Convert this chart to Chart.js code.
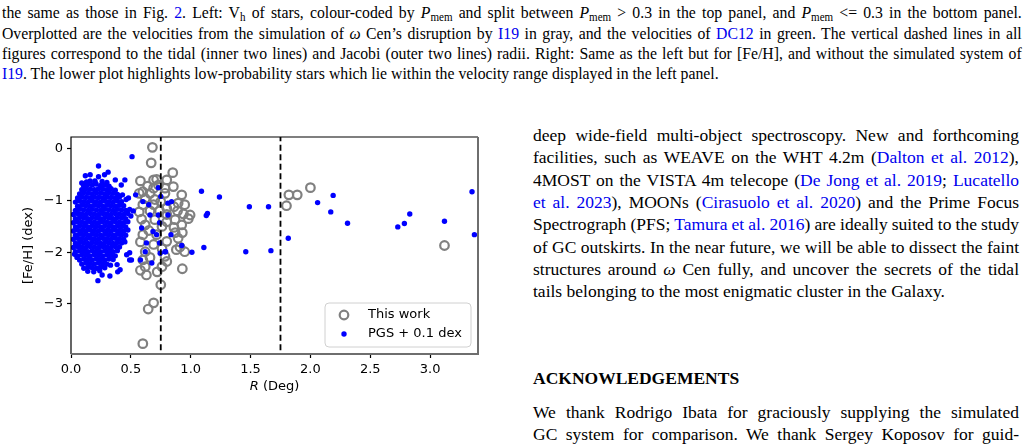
<!DOCTYPE html>
<html><head><meta charset="utf-8">
<script src="https://cdn.jsdelivr.net/npm/chart.js@4.4.1/dist/chart.umd.min.js"></script>
<style>
html,body{margin:0;padding:0;background:#fff;}
body{width:1026px;height:447px;overflow:hidden;position:relative;font-family:"Liberation Serif","Times New Roman",serif;color:#000;}
.cap{position:absolute;left:2px;width:1133px;transform:scaleX(0.9);transform-origin:0 0;font-size:17.5px;line-height:20px;text-align:justify;text-align-last:justify;}
.cap.last{text-align-last:left;}
.col{position:absolute;left:533px;width:486px;font-size:17.5px;line-height:22px;text-align:justify;text-align-last:justify;}
.col.last{text-align-last:left;}
.col.tight{word-spacing:-2.5px;}
.head{position:absolute;left:533px;font-size:17.5px;font-weight:bold;line-height:20px;}
a{color:#0000ee;text-decoration:none;}
sub{font-size:70%;vertical-align:-0.25em;line-height:0;}
#c{position:absolute;left:0;top:100px;}
</style>
</head><body>
<div class="cap" style="top:2px">the same as those in Fig. <a>2</a>. Left: V<sub>h</sub> of stars, colour-coded by <i>P</i><sub>mem</sub> and split between <i>P</i><sub>mem</sub> &gt; 0.3 in the top panel, and <i>P</i><sub>mem</sub> &lt;= 0.3 in the bottom panel.</div>
<div class="cap" style="top:23px">Overplotted are the velocities from the simulation of <i>ω</i> Cen’s disruption by <a>I19</a> in gray, and the velocities of <a>DC12</a> in green. The vertical dashed lines in all</div>
<div class="cap" style="top:43px">figures correspond to the tidal (inner two lines) and Jacobi (outer two lines) radii. Right: Same as the left but for [Fe/H], and without the simulated system of</div>
<div class="cap last" style="top:63px"><a>I19</a>. The lower plot highlights low-probability stars which lie within the velocity range displayed in the left panel.</div>

<div class="col" style="top:124px">deep wide-field multi-object spectroscopy. New and forthcoming</div>
<div class="col" style="top:146.3px">facilities, such as WEAVE on the WHT 4.2m (<a>Dalton et al. 2012</a>),</div>
<div class="col" style="top:168.6px">4MOST on the VISTA 4m telecope (<a>De Jong et al. 2019</a>; <a>Lucatello</a></div>
<div class="col" style="top:190.9px"><a>et al. 2023</a>), MOONs (<a>Cirasuolo et al. 2020</a>) and the Prime Focus</div>
<div class="col tight" style="top:213.2px">Spectrograph (PFS; <a>Tamura et al. 2016</a>) are ideally suited to the study</div>
<div class="col" style="top:235.5px">of GC outskirts. In the near future, we will be able to dissect the faint</div>
<div class="col" style="top:257.8px">structures around <i>ω</i> Cen fully, and uncover the secrets of the tidal</div>
<div class="col last" style="top:280.1px">tails belonging to the most enigmatic cluster in the Galaxy.</div>
<div class="head" style="top:368px">ACKNOWLEDGEMENTS</div>
<div class="col" style="top:401px">We thank Rodrigo Ibata for graciously supplying the simulated</div>
<div class="col" style="top:422.6px">GC system for comparison. We thank Sergey Koposov for guid-</div>

<canvas id="c" width="500" height="310"></canvas>
<script>
// ---- data ----
const xTickValues = [0, 0.5, 1.0, 1.5, 2.0, 2.5, 3.0];
const yTickValues = [0, -1, -2, -3];
const radiusLines = [0.75, 1.75]; // tidal and Jacobi radii (deg)
const legendLabels = ['This work', 'PGS + 0.1 dex'];

// "This work" [R (deg), [Fe/H]]
const thisWorkPoints = [
[0.68,0.03],[0.67,-0.27],
[0.58,-0.62],[0.715,-0.59],[0.85,-0.46],[0.80,-0.60],[0.69,-0.60],
[0.60,-0.83],[0.69,-0.76],[0.785,-0.76],[0.855,-0.73],[0.64,-0.72],[0.57,-0.86],
[0.925,-0.89],[0.66,-0.86],[0.785,-0.86],[0.73,-0.70],
[0.895,-1.05],[0.95,-1.08],[0.80,-1.15],[0.69,-1.08],[0.60,-1.08],[0.86,-1.12],[0.75,-1.02],[0.62,-0.96],[0.70,-0.98],
[0.995,-1.28],[0.94,-1.26],[0.80,-1.27],[0.57,-1.22],[0.66,-1.20],[0.89,-1.20],[0.74,-1.20],
[0.87,-1.37],[0.925,-1.47],[0.62,-1.47],[0.70,-1.37],[0.80,-1.41],[0.98,-1.35],[0.59,-1.36],[0.76,-1.50],[0.86,-1.52],
[0.895,-1.73],[0.80,-1.79],[0.715,-1.66],[0.60,-1.66],[0.65,-1.58],[0.93,-1.62],[0.87,-1.62],
[0.95,-1.99],[0.88,-1.95],[0.62,-1.99],[0.785,-2.08],[0.91,-1.90],[0.69,-1.85],[0.58,-1.80],[0.76,-1.93],
[0.60,-2.15],[0.62,-2.28],[0.63,-2.44],[0.76,-2.28],[0.80,-2.18],[0.93,-2.32],[0.66,-2.10],[0.58,-2.35],[0.72,-2.38],
[0.75,-2.63],[0.69,-2.98],[0.645,-3.10],[0.60,-3.77],
[1.82,-0.89],[1.89,-0.89],[2.00,-0.75],[1.80,-1.10],[3.12,-1.87]
];

// PGS + 0.1 dex, dense core of the cluster
const pgsCorePoints = [
[0.105,-0.71],[0.14,-0.69],[0.178,-0.70],[0.21,-0.68],[0.248,-0.71],[0.283,-0.70],[0.318,-0.72],
[0.09,-0.79],[0.126,-0.77],[0.16,-0.78],[0.196,-0.79],[0.23,-0.77],[0.265,-0.78],[0.30,-0.79],[0.335,-0.77],[0.37,-0.80],
[0.072,-0.87],[0.107,-0.85],[0.142,-0.86],[0.177,-0.87],[0.212,-0.85],[0.247,-0.86],[0.282,-0.87],[0.317,-0.85],[0.352,-0.86],[0.388,-0.88],
[0.055,-0.95],[0.09,-0.93],[0.125,-0.94],[0.16,-0.95],[0.195,-0.93],[0.23,-0.94],[0.265,-0.95],[0.30,-0.93],[0.335,-0.94],[0.37,-0.95],[0.405,-0.93],
[0.037,-1.03],[0.072,-1.01],[0.107,-1.02],[0.142,-1.03],[0.177,-1.01],[0.212,-1.02],[0.247,-1.03],[0.282,-1.01],[0.317,-1.02],[0.352,-1.03],[0.387,-1.01],[0.422,-1.02],
[0.055,-1.11],[0.09,-1.09],[0.125,-1.10],[0.16,-1.11],[0.195,-1.09],[0.23,-1.10],[0.265,-1.11],[0.30,-1.09],[0.335,-1.10],[0.37,-1.11],[0.405,-1.09],[0.44,-1.10],
[0.037,-1.19],[0.072,-1.17],[0.107,-1.18],[0.142,-1.19],[0.177,-1.17],[0.212,-1.18],[0.247,-1.19],[0.282,-1.17],[0.317,-1.18],[0.352,-1.19],[0.387,-1.17],[0.422,-1.18],[0.457,-1.19],[0.49,-1.17],
[0.02,-1.27],[0.055,-1.25],[0.09,-1.26],[0.125,-1.27],[0.16,-1.25],[0.195,-1.26],[0.23,-1.27],[0.265,-1.25],[0.30,-1.26],[0.335,-1.27],[0.37,-1.25],[0.405,-1.26],[0.44,-1.27],[0.475,-1.25],
[0.037,-1.35],[0.072,-1.33],[0.107,-1.34],[0.142,-1.35],[0.177,-1.33],[0.212,-1.34],[0.247,-1.35],[0.282,-1.33],[0.317,-1.34],[0.352,-1.35],[0.387,-1.33],[0.422,-1.34],[0.457,-1.35],
[0.02,-1.43],[0.055,-1.41],[0.09,-1.42],[0.125,-1.43],[0.16,-1.41],[0.195,-1.42],[0.23,-1.43],[0.265,-1.41],[0.30,-1.42],[0.335,-1.43],[0.37,-1.41],[0.405,-1.42],[0.44,-1.43],[0.475,-1.41],
[0.037,-1.51],[0.072,-1.49],[0.107,-1.50],[0.142,-1.51],[0.177,-1.49],[0.212,-1.50],[0.247,-1.51],[0.282,-1.49],[0.317,-1.50],[0.352,-1.51],[0.387,-1.49],[0.422,-1.50],[0.457,-1.51],
[0.02,-1.59],[0.055,-1.57],[0.09,-1.58],[0.125,-1.59],[0.16,-1.57],[0.195,-1.58],[0.23,-1.59],[0.265,-1.57],[0.30,-1.58],[0.335,-1.59],[0.37,-1.57],[0.405,-1.58],[0.44,-1.59],[0.475,-1.57],
[0.037,-1.67],[0.072,-1.65],[0.107,-1.66],[0.142,-1.67],[0.177,-1.65],[0.212,-1.66],[0.247,-1.67],[0.282,-1.65],[0.317,-1.66],[0.352,-1.67],[0.387,-1.65],[0.422,-1.66],[0.457,-1.67],
[0.02,-1.75],[0.055,-1.73],[0.09,-1.74],[0.125,-1.75],[0.16,-1.73],[0.195,-1.74],[0.23,-1.75],[0.265,-1.73],[0.30,-1.74],[0.335,-1.75],[0.37,-1.73],[0.405,-1.74],[0.44,-1.75],
[0.037,-1.83],[0.072,-1.81],[0.107,-1.82],[0.142,-1.83],[0.177,-1.81],[0.212,-1.82],[0.247,-1.83],[0.282,-1.81],[0.317,-1.82],[0.352,-1.83],[0.387,-1.81],[0.422,-1.82],
[0.02,-1.91],[0.055,-1.89],[0.09,-1.90],[0.125,-1.91],[0.16,-1.89],[0.195,-1.90],[0.23,-1.91],[0.265,-1.89],[0.30,-1.90],[0.335,-1.91],[0.37,-1.89],[0.405,-1.90],
[0.037,-1.99],[0.072,-1.97],[0.107,-1.98],[0.142,-1.99],[0.177,-1.97],[0.212,-1.98],[0.247,-1.99],[0.282,-1.97],[0.317,-1.98],[0.352,-1.99],[0.387,-1.97],
[0.055,-2.07],[0.09,-2.05],[0.125,-2.06],[0.16,-2.07],[0.195,-2.05],[0.23,-2.06],[0.265,-2.07],[0.30,-2.05],[0.335,-2.06],[0.37,-2.07],
[0.072,-2.15],[0.107,-2.13],[0.142,-2.14],[0.177,-2.15],[0.212,-2.13],[0.247,-2.14],[0.282,-2.15],[0.317,-2.13],[0.352,-2.14],
[0.09,-2.23],[0.125,-2.21],[0.16,-2.22],[0.195,-2.23],[0.23,-2.21],[0.265,-2.22],[0.30,-2.23],
[0.107,-2.31],[0.142,-2.29],[0.177,-2.30],[0.212,-2.31],[0.247,-2.29],[0.282,-2.30],
[0.05,-2.10],[0.03,-2.04],[0.14,-2.37],[0.19,-2.38],[0.24,-2.36],[0.06,-0.98],[0.33,-2.25],[0.45,-1.80],
[0.50,-1.30],[0.52,-1.20],[0.46,-0.98],[0.20,-0.62],[0.16,-0.62],[0.26,-0.63],[0.30,-0.65],[0.13,-0.64]
];

// PGS + 0.1 dex, scattered stars
const pgsOutlierPoints = [
[0.51,-0.15],[0.23,-0.33],[0.12,-0.52],[0.16,-0.50],[0.23,-0.54],[0.28,-0.50],[0.31,-0.45],[0.09,-0.66],
[0.20,-0.64],[0.37,-0.60],[0.45,-0.60],[0.42,-0.70],[0.43,-0.89],[0.48,-0.95],[0.54,-0.89],[0.60,-1.02],
[0.65,-1.08],[0.73,-0.75],[0.75,-0.92],[0.81,-1.05],[0.84,-1.02],[0.73,-1.28],[0.74,-1.43],[0.66,-1.28],
[0.81,-1.28],[0.59,-1.53],[0.685,-1.60],[0.715,-1.66],[0.835,-1.66],[0.74,-1.82],[0.63,-1.82],[0.785,-1.99],
[0.745,-2.02],[0.62,-1.99],[0.675,-2.21],[0.505,-2.15],[0.41,-2.34],[0.465,-2.05],[0.58,-2.15],[0.49,-2.15],
[0.49,-2.01],[0.225,-2.55],[0.26,-2.44],[0.325,-2.46],[0.39,-2.38],[0.385,-2.24],[0.925,-1.87],[1.01,-2.00],
[1.09,-0.82],[1.24,-0.93],[1.49,-1.12],[1.65,-1.12],[1.14,-1.25],[1.13,-1.29],[1.815,-1.73],[2.06,-1.04],
[2.19,-0.90],[2.17,-1.22],[2.31,-1.44],[2.73,-1.51],[2.785,-1.445],[2.83,-1.26],[3.12,-1.40],[3.35,-0.83],
[3.37,-1.66],[1.11,-1.91],[1.46,-1.99],[1.67,-1.97],[0.79,-1.99]
];

// ---- chart ----
const toXY = p => ({x: p[0], y: p[1]});
const GRAY = '#808080', BLUE = '#0000ff';
const TICK_FONT = {family: 'DejaVu Sans', size: 13};

const decor = {
  id: 'decor',
  afterDraw(chart) {
    const {ctx, chartArea: a} = chart;
    ctx.save();
    // spines
    ctx.lineWidth = 1.2; ctx.strokeStyle = '#000';
    ctx.beginPath(); ctx.moveTo(a.left, a.bottom); ctx.lineTo(a.left, a.top); ctx.lineTo(a.right, a.top); ctx.stroke();
    ctx.lineWidth = 2; ctx.strokeStyle = '#6e6e6e';
    ctx.beginPath(); ctx.moveTo(a.left, a.bottom); ctx.lineTo(a.right, a.bottom); ctx.lineTo(a.right, a.top); ctx.stroke();
    // legend
    const bw = 146, bh = 44, bx = a.right - 7 - bw, by = a.bottom - 7 - bh, r = 4;
    ctx.beginPath();
    ctx.moveTo(bx + r, by); ctx.lineTo(bx + bw - r, by); ctx.arcTo(bx + bw, by, bx + bw, by + r, r);
    ctx.lineTo(bx + bw, by + bh - r); ctx.arcTo(bx + bw, by + bh, bx + bw - r, by + bh, r);
    ctx.lineTo(bx + r, by + bh); ctx.arcTo(bx, by + bh, bx, by + bh - r, r);
    ctx.lineTo(bx, by + r); ctx.arcTo(bx, by, bx + r, by, r); ctx.closePath();
    ctx.fillStyle = 'rgba(255,255,255,0.8)'; ctx.fill();
    ctx.lineWidth = 1; ctx.strokeStyle = '#d0d0d0'; ctx.stroke();
    const mx = bx + 19, y1 = by + 12, y2 = by + 31;
    ctx.beginPath(); ctx.arc(mx, y1, 4.3, 0, Math.PI * 2); ctx.lineWidth = 2.2; ctx.strokeStyle = GRAY; ctx.stroke();
    ctx.beginPath(); ctx.arc(mx, y2, 2.7, 0, Math.PI * 2); ctx.fillStyle = BLUE; ctx.fill();
    ctx.fillStyle = '#000'; ctx.font = '13px "DejaVu Sans"'; ctx.textBaseline = 'middle'; ctx.textAlign = 'left';
    ctx.fillText(legendLabels[0], bx + 43, y1);
    ctx.fillText(legendLabels[1], bx + 43, y2);
    // axis titles
    ctx.save();
    ctx.translate(29, (a.top + a.bottom) / 2);
    ctx.rotate(-Math.PI / 2);
    ctx.textAlign = 'center';
    ctx.fillText('[Fe/H] (dex)', 0, 0);
    ctx.restore();
    ctx.font = 'italic 13px "DejaVu Sans"';
    const wR = ctx.measureText('R').width;
    ctx.font = '13px "DejaVu Sans"';
    const wRest = ctx.measureText(' (Deg)').width;
    const sx = (a.left + a.right) / 2 - (wR + wRest) / 2, ty = a.bottom + 33;
    ctx.textAlign = 'left';
    ctx.font = 'italic 13px "DejaVu Sans"'; ctx.fillText('R', sx, ty);
    ctx.font = '13px "DejaVu Sans"'; ctx.fillText(' (Deg)', sx + wR, ty);
    ctx.restore();
  }
};

new Chart(document.getElementById('c'), {
  type: 'scatter',
  data: {
    datasets: [
      {label: legendLabels[0], data: thisWorkPoints.map(toXY), order: 1,
       pointStyle: 'circle', pointRadius: 4.3, pointBorderWidth: 2.2,
       pointBackgroundColor: 'rgba(0,0,0,0)', pointBorderColor: GRAY},
      {label: legendLabels[1], data: pgsCorePoints.concat(pgsOutlierPoints).map(toXY), order: 0,
       pointStyle: 'circle', pointRadius: 2.7, pointBorderWidth: 0,
       pointBackgroundColor: BLUE, pointBorderColor: BLUE},
      ...radiusLines.map(v => ({type: 'line', label: 'r' + v, order: -1,
        data: [{x: v, y: -5}, {x: v, y: 1}], borderColor: '#000', borderWidth: 1.8,
        borderDash: [6, 3.5], pointRadius: 0, fill: false}))
    ]
  },
  options: {
    responsive: false, animation: false, devicePixelRatio: 1,
    layout: {padding: {top: 37, right: 22, left: 0, bottom: 0}},
    plugins: {legend: {display: false}, tooltip: {enabled: false}},
    scales: {
      x: {type: 'linear', min: 0, max: 3.40,
          afterBuildTicks: s => { s.ticks = xTickValues.map(v => ({value: v})); },
          afterFit: s => { s.height = 56; },
          grid: {drawOnChartArea: false, drawTicks: true, tickLength: 4, tickColor: '#000', tickWidth: 1.2},
          border: {display: false},
          ticks: {color: '#000', font: TICK_FONT, padding: 4, maxRotation: 0,
                  callback: v => Number(v).toFixed(1)}},
      y: {type: 'linear', min: -3.97, max: 0.23,
          afterBuildTicks: s => { s.ticks = yTickValues.map(v => ({value: v})); },
          afterFit: s => { s.width = 71; },
          grid: {drawOnChartArea: false, drawTicks: true, tickLength: 4, tickColor: '#000', tickWidth: 1.2},
          border: {display: false},
          ticks: {color: '#000', font: TICK_FONT, padding: 4,
                  callback: v => String(v).replace('-', '\u2212')}}
    }
  },
  plugins: [decor]
});
</script>
</body></html>
